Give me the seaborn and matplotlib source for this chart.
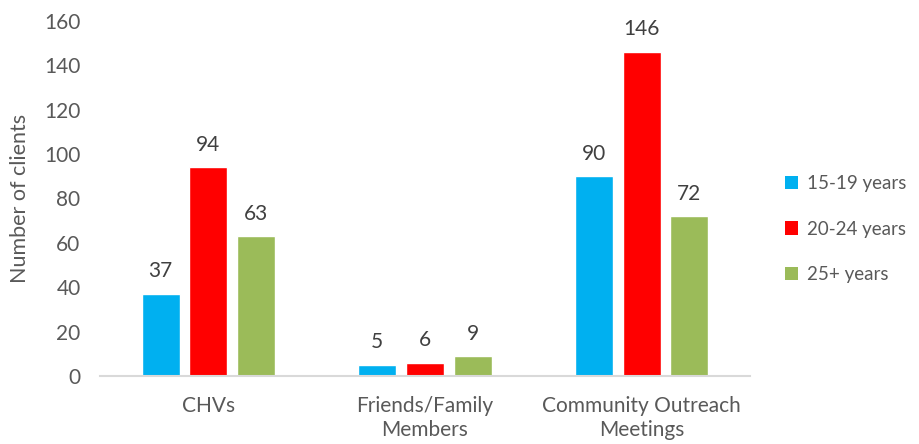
import matplotlib
matplotlib.use("Agg")
import matplotlib.pyplot as plt
import seaborn as sns
import pandas as pd
from matplotlib.patches import Patch

categories = ["CHVs", "Friends/Family\nMembers", "Community Outreach\nMeetings"]
age_groups = ["15-19 years", "20-24 years", "25+ years"]
values_15_19 = [37, 5, 90]
values_20_24 = [94, 6, 146]
values_25_plus = [63, 9, 72]
colors = ["#00B0F0", "#FF0000", "#9BBB59"]

rows = []
for grp, vals in zip(age_groups, [values_15_19, values_20_24, values_25_plus]):
    for cat, v in zip(categories, vals):
        rows.append({"Source": cat, "Age": grp, "Clients": v})
df = pd.DataFrame(rows)

sns.set_theme(style="white")
plt.rcParams["font.family"] = ["Lato", "DejaVu Sans"]

fig = plt.figure(figsize=(9.19, 4.44), dpi=100)
ax = fig.add_axes([0.1088, 0.153, 0.7072, 0.80])

sns.barplot(data=df, x="Source", y="Clients", hue="Age", order=categories,
            hue_order=age_groups, palette=colors, width=0.66, gap=0.2,
            saturation=1, errorbar=None, ax=ax, legend=False)

for cont in ax.containers:
    ax.bar_label(cont, padding=9, fontsize=15, color="#404040")

ax.set_ylim(0, 160)
ax.set_yticks(range(0, 161, 20))
ax.set_xlim(-0.5, 2.5)
ax.set_ylabel("Number of clients", fontsize=15.5, color="#595959", labelpad=10)
ax.set_xlabel("")
ax.tick_params(axis="both", length=0, labelsize=15, colors="#595959")
ax.tick_params(axis="x", pad=14)
ax.tick_params(axis="y", pad=14)
for lbl in ax.get_xticklabels():
    lbl.set_linespacing(1.3)

for s in ["top", "right", "left"]:
    ax.spines[s].set_visible(False)
ax.spines["bottom"].set_color("#D9D9D9")
ax.spines["bottom"].set_linewidth(1.5)

handles = [Patch(facecolor=c, edgecolor="none") for c in colors]
leg = fig.legend(handles, age_groups, loc="center left",
                 bbox_to_anchor=(0.836, 0.484), frameon=False,
                 fontsize=13.5, labelspacing=1.5, handlelength=0.7,
                 handleheight=0.7, handletextpad=0.45)
for t in leg.get_texts():
    t.set_color("#595959")

fig.savefig("out.png", dpi=100)
